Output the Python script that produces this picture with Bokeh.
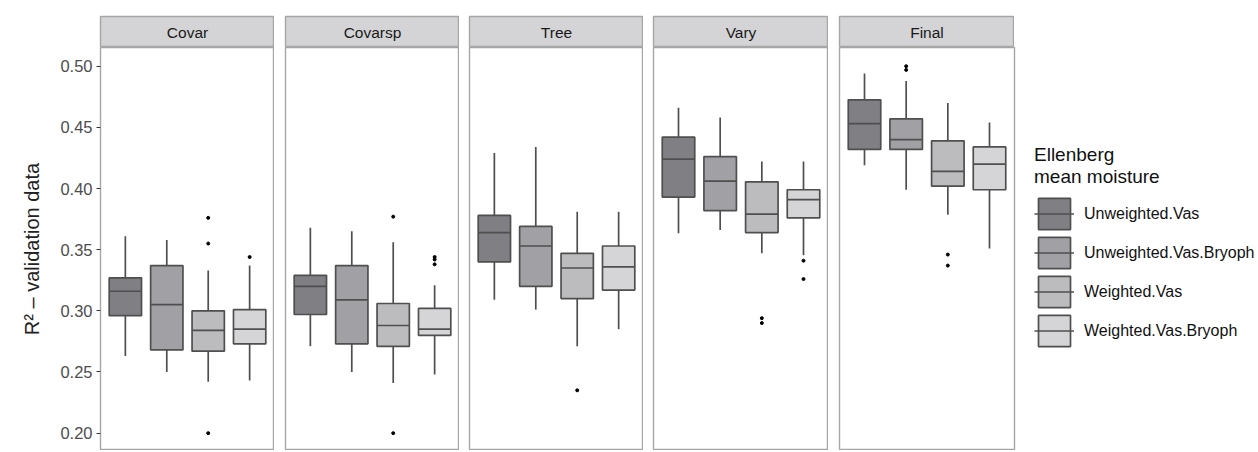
from bokeh.plotting import figure
from bokeh.layouts import row, column
from bokeh.models import (Range1d, FixedTicker, NumeralTickFormatter,
                          Label, Legend, LegendItem, ColumnDataSource)
from bokeh.embed import file_html
from bokeh.resources import INLINE

# ---------------- data ----------------
facets = ["Covar", "Covarsp", "Tree", "Vary", "Final"]
groups = ["Unweighted.Vas", "Unweighted.Vas.Bryoph", "Weighted.Vas", "Weighted.Vas.Bryoph"]

lower_whisker = [
    [0.263, 0.250, 0.242, 0.243],
    [0.271, 0.250, 0.241, 0.248],
    [0.309, 0.301, 0.271, 0.285],
    [0.3635, 0.366, 0.347, 0.3455],
    [0.419, 0.399, 0.3785, 0.351],
]
q1 = [
    [0.296, 0.268, 0.267, 0.273],
    [0.297, 0.273, 0.271, 0.280],
    [0.340, 0.320, 0.310, 0.317],
    [0.393, 0.382, 0.364, 0.376],
    [0.432, 0.432, 0.402, 0.399],
]
median = [
    [0.316, 0.305, 0.284, 0.285],
    [0.320, 0.309, 0.288, 0.285],
    [0.364, 0.353, 0.335, 0.336],
    [0.424, 0.406, 0.379, 0.391],
    [0.453, 0.440, 0.414, 0.420],
]
q3 = [
    [0.327, 0.337, 0.300, 0.301],
    [0.329, 0.337, 0.306, 0.302],
    [0.378, 0.369, 0.347, 0.353],
    [0.442, 0.426, 0.4055, 0.399],
    [0.4725, 0.457, 0.439, 0.434],
]
upper_whisker = [
    [0.361, 0.358, 0.333, 0.337],
    [0.368, 0.365, 0.356, 0.321],
    [0.429, 0.434, 0.381, 0.381],
    [0.466, 0.458, 0.422, 0.422],
    [0.494, 0.488, 0.470, 0.454],
]
outlier_facet = [0, 0, 0, 0,
                 1, 1, 1, 1, 1,
                 2,
                 3, 3, 3, 3,
                 4, 4, 4, 4]
outlier_group = [2, 2, 2, 3,
                 2, 2, 3, 3, 3,
                 2,
                 2, 2, 3, 3,
                 1, 1, 2, 2]
outlier_value = [0.376, 0.355, 0.200, 0.344,
                 0.377, 0.200, 0.344, 0.342, 0.338,
                 0.235,
                 0.294, 0.290, 0.341, 0.326,
                 0.500, 0.497, 0.346, 0.337]
y_ticks = [0.20, 0.25, 0.30, 0.35, 0.40, 0.45, 0.50]
y_title = "R\u00b2 \u2013 validation data"

# ---------------- styling ----------------
FILLS = ["#7f7f84", "#a1a1a5", "#bcbcbf", "#d5d5d7"]
LINE = "#4f4f4f"
BORDER = "#a6a6a6"
STRIP_FILL = "#d4d4d6"
FONT = "Liberation Sans"
BW = 0.78
X0, X1 = 0.4, 4.6
Y0, Y1 = 0.1858, 0.5153

frame_widths = [174, 174, 174, 175, 175]
left_borders = [100, 11, 10, 10, 11]

columns = []
legend_items = []
panel_figs = []
for i, facet in enumerate(facets):
    # ---- facet strip ----
    s = figure(frame_width=frame_widths[i], frame_height=31,
               x_range=Range1d(0, 1), y_range=Range1d(0, 1),
               toolbar_location=None, output_backend="svg",
               x_axis_location=None, y_axis_location=None,
               min_border_left=left_borders[i], min_border_right=0,
               min_border_top=16, min_border_bottom=0)
    s.grid.visible = False
    s.background_fill_color = STRIP_FILL
    s.outline_line_color = BORDER
    s.outline_line_width = 1.4
    s.add_layout(Label(x=0.5, y=0.5, text=facet,
                       text_align="center", text_baseline="middle",
                       text_font=FONT, text_font_size="15.5px",
                       text_font_style="normal", text_color="#1a1a1a"))

    # ---- panel ----
    p = figure(frame_width=frame_widths[i], frame_height=403,
               x_range=Range1d(X0, X1), y_range=Range1d(Y0, Y1),
               toolbar_location=None, output_backend="svg",
               x_axis_location=None,
               y_axis_location="left" if i == 0 else None,
               min_border_left=left_borders[i], min_border_right=0,
               min_border_top=0, min_border_bottom=0)
    p.grid.visible = False
    p.outline_line_color = BORDER
    p.outline_line_width = 1.4
    p.background_fill_color = "white"

    if i == 0:
        ax = p.yaxis[0]
        ax.ticker = FixedTicker(ticks=y_ticks)
        ax.formatter = NumeralTickFormatter(format="0.00")
        ax.axis_line_color = None
        ax.major_tick_in = 0
        ax.major_tick_out = 4
        ax.major_tick_line_color = "#333333"
        ax.minor_tick_line_color = None
        ax.major_label_text_font = FONT
        ax.major_label_text_font_size = "16.5px"
        ax.major_label_text_color = "#4d4d4d"
        ax.major_label_standoff = 4
        ax.axis_label = y_title
        ax.axis_label_text_font = FONT
        ax.axis_label_text_font_size = "20px"
        ax.axis_label_text_font_style = "normal"
        ax.axis_label_text_color = "#222222"
        ax.axis_label_standoff = 14

    for j, g in enumerate(groups):
        x = j + 1
        src = ColumnDataSource(dict(
            x=[x], left=[x - BW / 2], right=[x + BW / 2],
            lw=[lower_whisker[i][j]], q1=[q1[i][j]], med=[median[i][j]],
            q3=[q3[i][j]], uw=[upper_whisker[i][j]]))
        p.segment(x0="x", y0="q3", x1="x", y1="uw", source=src,
                  line_color=LINE, line_width=1.7)
        p.segment(x0="x", y0="lw", x1="x", y1="q1", source=src,
                  line_color=LINE, line_width=1.7)
        r_box = p.vbar(x="x", width=BW, bottom="q1", top="q3", source=src,
                       fill_color=FILLS[j], line_color=LINE, line_width=1.7)
        r_med = p.segment(x0="left", y0="med", x1="right", y1="med", source=src,
                          line_color=LINE, line_width=1.7)
        oy = [v for f, gg, v in zip(outlier_facet, outlier_group, outlier_value)
              if f == i and gg == j]
        if oy:
            p.scatter([x] * len(oy), oy, size=3, color="black")
        if i == len(facets) - 1:
            legend_items.append(LegendItem(label=g, renderers=[r_box, r_med]))

    panel_figs.append(p)
    columns.append((s, p))

last = panel_figs[-1]
legend = Legend(items=legend_items, location=(20, 100),
                title="Ellenberg\nmean moisture",
                title_text_font=FONT, title_text_font_size="19px",
                title_text_font_style="normal", title_text_color="#111111",
                title_standoff=6,
                label_text_font=FONT, label_text_font_size="16px",
                label_text_color="#111111",
                glyph_width=40, glyph_height=39, spacing=0, label_standoff=10,
                label_height=39,
                border_line_color=None, background_fill_color=None,
                margin=20, padding=0)
last.add_layout(legend, "right")

# the strip above the last panel must be as wide as the panel figure frame;
# give it the same right-hand room so the column aligns on the left
layout = row(*[column(s, p) for s, p in columns])
open("out.html", "w").write(file_html(layout, INLINE))
